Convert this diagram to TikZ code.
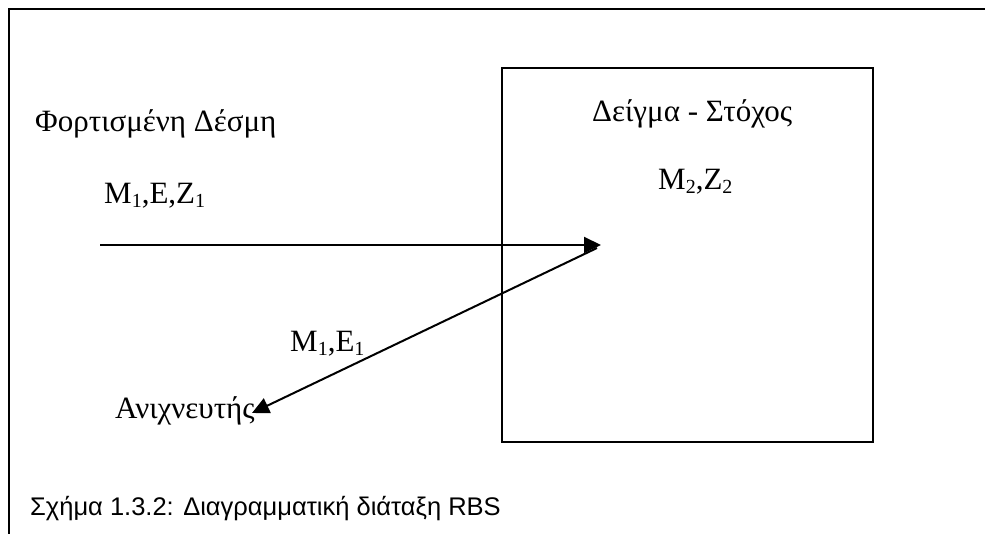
\documentclass[tikz,border=0pt]{standalone}
\usepackage{fontspec}
\setmainfont{Liberation Serif}
\newfontfamily\capfont{Liberation Sans}
\usetikzlibrary{arrows.meta}
% lowered, smaller index digit
\newcommand\lowidx[1]{\raisebox{-0.28ex}{\fontsize{20}{20}\selectfont #1}}
\begin{document}
\begin{tikzpicture}[x=1pt,y=-1pt,
  frame/.style={line width=2pt},
  ray/.style={line width=2pt,-{Triangle[length=17pt,width=16pt]}},
  lbl/.style={anchor=base west,inner sep=0pt,font=\fontsize{31}{36}\selectfont}]
\useasboundingbox (0,0) rectangle (985,534);
% page frame (open at right and bottom)
\draw[frame] (9,534) -- (9,9) -- (985,9);
% target block
\node[draw, frame, minimum width=371pt, minimum height=374pt,
      anchor=north west, inner sep=0pt] (target) at (501,67) {};
% labels
\node[lbl] (beam)  at (35,132)  {Φορτισμένη Δέσμη};
\node[lbl] (beamq) at (104,204) {M\lowidx{1},E,Z\lowidx{1}};
\node[lbl] (tgt)   at (592,122) {Δείγμα - Στόχος};
\node[lbl] (tgtq)  at (658,190) {M\lowidx{2},Z\lowidx{2}};
\node[lbl] (scq)   at (290,352) {M\lowidx{1},E\lowidx{1}};
\node[lbl] (det)   at (115,418) {Ανιχνευτής};
% beam paths
\coordinate (src)  at (100,245);
\coordinate (hit)  at (601,245);
\coordinate (out)  at (597,248);
\coordinate (dtip) at (252,413);
\draw[ray] (src) -- (hit);
\draw[ray] (out) -- (dtip);
% caption
\node[anchor=base west, inner sep=0pt, font=\capfont\fontsize{25.5}{30}\selectfont]
  (cap) at (30,515) {Σχήμα 1.3.2: Διαγραμματική διάταξη RBS};
\end{tikzpicture}
\end{document}
